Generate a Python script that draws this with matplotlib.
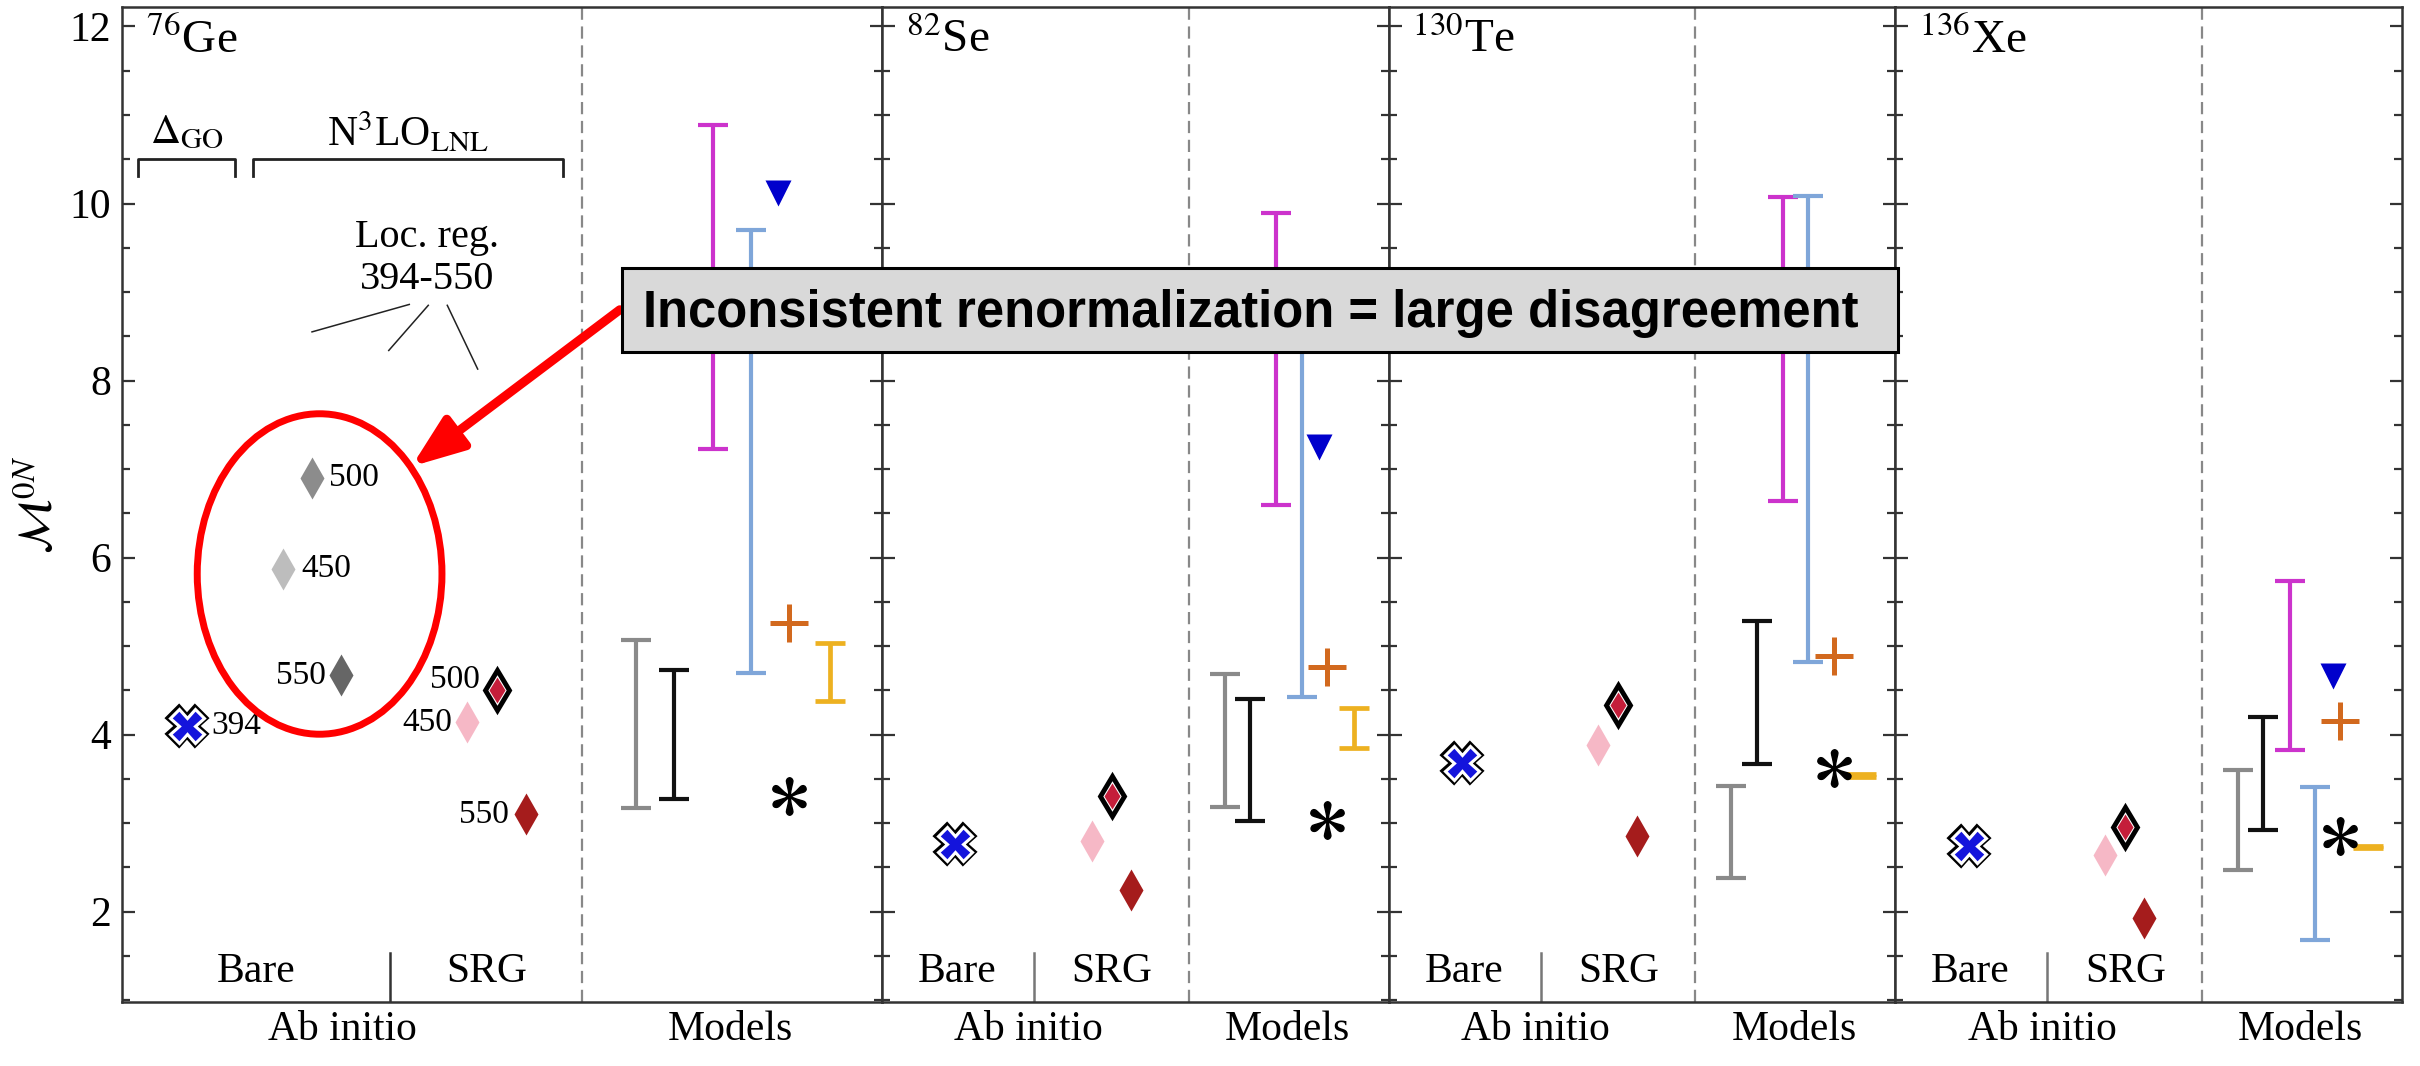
import numpy as np
import matplotlib
matplotlib.use('Agg')
import matplotlib.pyplot as plt
from matplotlib.patches import Ellipse, Rectangle
from matplotlib.ticker import MultipleLocator

plt.rcParams['font.family'] = ['Liberation Serif', 'DejaVu Serif']
plt.rcParams['mathtext.fontset'] = 'stix'

# nuclei (one panel each)
nuclei = [r'$^{76}$Ge', r'$^{82}$Se', r'$^{130}$Te', r'$^{136}$Xe']

# ab initio results
bare_394 = [4.10, 2.77, 3.68, 2.74]        # Delta_GO, bare
srg_450 = [4.14, 2.80, 3.88, 2.64]
srg_500 = [4.50, 3.31, 4.34, 2.96]
srg_550 = [3.10, 2.24, 2.85, 1.93]
cutoffs = ['450', '500', '550']
loc_bare_ge = [5.87, 6.90, 4.67]          # N3LO_LNL local reg., bare, 76Ge only

# model calculations (ranges and single values)
gray_lo = [3.17, 3.18, 2.38, 2.47]
gray_hi = [5.07, 4.69, 3.42, 3.60]
black_lo = [3.27, 3.03, 3.67, 2.92]
black_hi = [4.73, 4.40, 5.28, 4.20]
magenta_lo = [7.23, 6.60, 6.64, 3.83]
magenta_hi = [10.89, 9.89, 10.07, 5.74]
blue_lo = [4.70, 4.42, 4.82, 1.68]
blue_hi = [9.70, 9.00, 10.09, 3.41]
yellow_lo = [4.38, 3.85, 3.525, 2.715]
yellow_hi = [5.03, 4.30, 3.555, 2.745]
triangle = [10.12, 7.25, np.nan, 4.66]
plus = [5.26, 4.76, 4.89, 4.15]
star = [3.31, 3.04, 3.62, 2.86]

# x slots (fraction of panel width)
x_models = [0.676, 0.726, 0.778, 0.828, 0.863, 0.878, 0.932]
x_cross = [0.086, 0.145, 0.145, 0.145]
x_srg = [[0.454, 0.493, 0.531]] + [[0.414, 0.453, 0.491]] * 3
x_loc_ge = [0.212, 0.250, 0.288]

YLIM = (0.98, 12.22)

fig = plt.figure(figsize=(24.2, 10.66), dpi=100)
gs = fig.add_gridspec(1, 4, width_ratios=[1.5, 1, 1, 1], left=122 / 2420, right=2402 / 2420,
                      bottom=1 - 1002 / 1066, top=1 - 7 / 1066, wspace=0)
axes = [fig.add_subplot(gs[0, i]) for i in range(4)]


def rng(ax, x, lo, hi, color, lw=3.0):
    mid = (lo + hi) / 2
    half = (hi - lo) / 2
    ax.errorbar([x], [mid], yerr=[[half], [half]], fmt='none', ecolor=color,
                elinewidth=lw, capsize=11, capthick=lw, zorder=3)


for i, ax in enumerate(axes):
    ax.set_xlim(0, 1)
    ax.set_ylim(*YLIM)
    for sp in ax.spines.values():
        sp.set_linewidth(1.8)
        sp.set_color('#333333')
    ax.yaxis.set_major_locator(MultipleLocator(2))
    ax.yaxis.set_minor_locator(MultipleLocator(0.5))
    ax.tick_params(axis='y', which='both', direction='in', left=True, right=True,
                   width=1.6, color='#333333', labelsize=30, pad=8)
    ax.tick_params(axis='y', which='major', length=9)
    ax.tick_params(axis='y', which='minor', length=6)
    if i > 0:
        ax.tick_params(axis='y', labelleft=False)
    ax.set_xticks([0.29, 0.80], ['Ab initio', 'Models'])
    ax.tick_params(axis='x', length=0, labelsize=30, pad=6)

    ax.axvline(0.605, color='#888888', lw=1.6, ls=(0, (5.5, 3)), zorder=1)

    # nucleus label
    ax.annotate(nuclei[i], xy=(0, 1), xycoords='axes fraction', xytext=(17, -8),
                textcoords='offset points', ha='left', va='top', fontsize=34)

    # Bare | SRG
    xdiv = 0.353 if i == 0 else 0.30
    xb = 0.176 if i == 0 else 0.148
    xs = 0.480 if i == 0 else 0.454
    ax.plot([xdiv, xdiv], [YLIM[0], 1.53], color='#333333' if i == 0 else '#777777', lw=1.8)
    ax.text(xb, 1.32, 'Bare', ha='center', va='center', fontsize=30)
    ax.text(xs, 1.32, 'SRG', ha='center', va='center', fontsize=30)

    # ab initio markers
    xc = x_cross[i]
    ax.plot(xc, bare_394[i], marker='X', ms=24, mfc='black', mec='black', mew=5.5, ls='none', zorder=4)
    ax.plot(xc, bare_394[i], marker='X', ms=24, mfc='#1414dc', mec='white', mew=2.2, ls='none', zorder=5)
    x4, x5, x6 = x_srg[i]
    ax.plot(x4, srg_450[i], marker='d', ms=21, mfc='#f6b8c6', mec='none', ls='none', zorder=4)
    ax.plot(x5, srg_500[i], marker='d', ms=20, mfc='white', mec='black', mew=3.5, ls='none', zorder=4)
    ax.plot(x5, srg_500[i], marker='d', ms=13, mfc='#c41e3a', mec='none', ls='none', zorder=5)
    ax.plot(x6, srg_550[i], marker='d', ms=21, mfc='#a51c1c', mec='none', ls='none', zorder=4)

    # models
    rng(ax, x_models[0], gray_lo[i], gray_hi[i], '#8a8a8a')
    rng(ax, x_models[1], black_lo[i], black_hi[i], '#111111')
    rng(ax, x_models[2], magenta_lo[i], magenta_hi[i], '#cc33cc')
    rng(ax, x_models[3], blue_lo[i], blue_hi[i], '#7fa6d9')
    rng(ax, x_models[6], yellow_lo[i], yellow_hi[i], '#edb120', lw=3.4)
    ax.plot(x_models[4], triangle[i], marker='v', ms=19, mfc='#0000cc', mec='none', ls='none', zorder=4)
    ax.plot(x_models[5], plus[i], marker='+', ms=28, mew=3.6, mec='#d2691e', ls='none', zorder=4)
    ax.plot(x_models[5], star[i], marker=r'$\ast$', ms=27, mfc='black', mec='black', ls='none', zorder=4)

ax1 = axes[0]
ax1.set_ylabel(r'$\mathcal{M}^{0N}$', fontsize=34)
ax1.yaxis.set_label_coords(-0.079, 0.5)

# local regulator bare diamonds (76Ge)
for xg, yg, c in zip(x_loc_ge, loc_bare_ge, ['#bdbdbd', '#8c8c8c', '#666666']):
    ax1.plot(xg, yg, marker='d', ms=21, mfc=c, mec='none', ls='none', zorder=4)

lab = dict(textcoords='offset points', va='center', fontsize=24)
ax1.annotate('394', (x_cross[0], bare_394[0]), xytext=(17, 0), ha='left', **lab)
ax1.annotate(cutoffs[0], (x_loc_ge[0], loc_bare_ge[0]), xytext=(13, 0), ha='left', **lab)
ax1.annotate(cutoffs[1], (x_loc_ge[1], loc_bare_ge[1]), xytext=(12, 0), ha='left', **lab)
ax1.annotate(cutoffs[2], (x_loc_ge[2], loc_bare_ge[2]), xytext=(-11, 0), ha='right', **lab)
ax1.annotate(cutoffs[0], (x_srg[0][0], srg_450[0]), xytext=(-11, 0), ha='right', **lab)
ax1.annotate(cutoffs[1], (x_srg[0][1], srg_500[0]), xytext=(-12, 8), ha='right', **lab)
ax1.annotate(cutoffs[2], (x_srg[0][2], srg_550[0]), xytext=(-12, 0), ha='right', **lab)

# interaction brackets
for x0, x1, txt in [(0.021, 0.149, r'$\Delta_{\rm GO}$'), (0.173, 0.580, r'N$^3$LO$_{\rm LNL}$')]:
    ax1.plot([x0, x0, x1, x1], [10.31, 10.50, 10.50, 10.31], color='#222222', lw=2.0)
    ax1.text((x0 + x1) / 2, 10.80, txt, ha='center', va='center', fontsize=30)

ax1.text(0.401, 9.62, 'Loc. reg.', ha='center', va='center', fontsize=29)
ax1.text(0.401, 9.14, '394-550', ha='center', va='center', fontsize=29)
for (xa, ya), (xb2, yb2) in [((0.378, 8.86), (0.250, 8.55)),
                             ((0.403, 8.85), (0.351, 8.34)),
                             ((0.428, 8.85), (0.468, 8.13))]:
    ax1.plot([xa, xb2], [ya, yb2], color='#222222', lw=1.1)

# red highlight
ax1.add_patch(Ellipse((0.260, 5.815), 0.322, 3.62, fill=False, edgecolor='#ff0000', lw=5, zorder=6, clip_on=False))
ax1.annotate('', xy=(0.381, 7.03), xytext=(0.655, 8.80),
             arrowprops=dict(arrowstyle='-|>,head_length=0.45,head_width=0.17', color='#ff0000',
                             lw=6.5, mutation_scale=70, shrinkA=0, shrinkB=0),
             zorder=6, annotation_clip=False)

fig.add_artist(Rectangle((622 / 2420, 1 - 352 / 1066), (1898 - 622) / 2420, 84 / 1066,
                         transform=fig.transFigure, facecolor='#d9d9d9', edgecolor='black', lw=2.2, zorder=5))
fig.text(643 / 2420, 1 - 327 / 1066, 'Inconsistent renormalization = large disagreement',
         fontsize=36.5, fontweight='bold', family=['Liberation Sans', 'DejaVu Sans'],
         ha='left', va='baseline', zorder=6)

fig.savefig('out.png', dpi=100, facecolor='white')
